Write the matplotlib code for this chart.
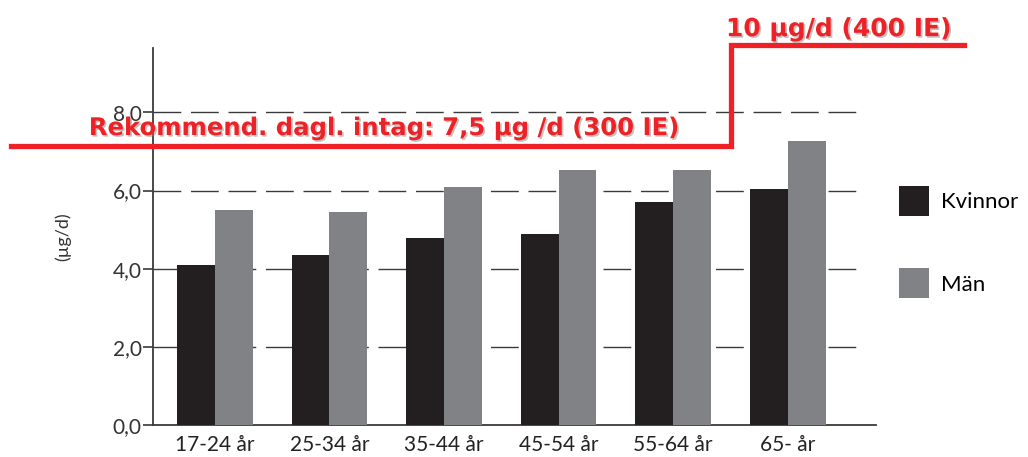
import matplotlib
matplotlib.use("Agg")
import numpy as np
import matplotlib.pyplot as plt
import matplotlib.patheffects as pe

# Daily vitamin D intake per age group (µg/d)
age_groups = ["17-24 år", "25-34 år", "35-44 år", "45-54 år", "55-64 år", "65- år"]
kvinnor = [4.1, 4.35, 4.78, 4.9, 5.7, 6.05]
man = [5.5, 5.45, 6.08, 6.52, 6.52, 7.28]
y_ticks = [0.0, 2.0, 4.0, 6.0, 8.0]
y_ticklabels = ["0,0", "2,0", "4,0", "6,0", "8,0"]

# Recommended daily intake: 7,5 µg/d up to 64 years, 10 µg/d from 65
rec_levels = [7.5, 10.0]
rec_split = 4.5  # between 55-64 and 65-
rec_text = ["Rekommend. dagl. intag: 7,5 µg /d (300 IE)", "10 µg/d (400 IE)"]

DARK = "#231f20"
GREY = "#808285"
RED = "#ee2226"
AXIS = "#3a3a3a"

plt.rcParams["font.family"] = ["Lato", "DejaVu Sans"]

fig = plt.figure(figsize=(10.28, 4.57), dpi=100)
ax = fig.add_axes([0.1488, 0.070, 0.7034, 0.825])

x = np.arange(len(age_groups))
w = 0.33
ax.bar(x - w / 2, kvinnor, w, color=DARK, label="Kvinnor", zorder=3)
ax.bar(x + w / 2, man, w, color=GREY, label="Män", zorder=3)

ax.set_xlim(-0.54, 5.77)
ax.set_ylim(0, 9.65)

# dashed reference lines
for yv in y_ticks[1:]:
    ln, = ax.plot([-0.54, 5.65], [yv, yv], color=AXIS, lw=1.0, zorder=1)
    ln.set_dashes([20, 7])

ax.set_yticks(y_ticks)
ax.set_yticklabels(y_ticklabels, fontsize=15, color="#333333")
ax.set_xticks(x)
ax.set_xticklabels(age_groups, fontsize=15, color="#222222")
ax.tick_params(axis="y", direction="out", length=7, width=1.2, color=AXIS, pad=1)
ax.tick_params(axis="x", length=0, pad=7)
for s in ["top", "right"]:
    ax.spines[s].set_visible(False)
for s in ["left", "bottom"]:
    ax.spines[s].set_color(AXIS)
    ax.spines[s].set_linewidth(1.3)
ax.set_ylabel("(µg/d)", fontsize=13, color="#333333", labelpad=30)

fig.legend(loc="upper left", bbox_to_anchor=(0.866, 0.612), frameon=False,
           fontsize=16, handlelength=1.35, handleheight=1.7,
           labelspacing=2.35, handletextpad=0.55, borderaxespad=0)

# recommendation overlay on its own scale
ax2 = ax.twinx()
ax2.set_ylim(0.595, 9.93)
ax2.axis("off")
xs = [-1.78, rec_split, rec_split, 6.54]
ys = [rec_levels[0], rec_levels[0], rec_levels[1], rec_levels[1]]
ax2.plot(xs, ys, color=RED, lw=3.8, clip_on=False, solid_joinstyle="miter", zorder=5)

shadow = [pe.withSimplePatchShadow(offset=(1.2, -1.2), shadow_rgbFace="#888888", alpha=0.5)]
ax2.annotate(rec_text[0], (-1.10, rec_levels[0]), xytext=(0, 8), textcoords="offset points",
             ha="left", va="baseline", fontsize=17.5, fontweight="bold", color=RED,
             family="DejaVu Sans", annotation_clip=False, path_effects=shadow, zorder=6)
ax2.annotate(rec_text[1], (4.46, rec_levels[1]), xytext=(0, 6.5), textcoords="offset points",
             ha="left", va="baseline", fontsize=18, fontweight="bold", color=RED,
             family="DejaVu Sans", annotation_clip=False, path_effects=shadow, zorder=6)

fig.savefig("out.png", dpi=100)
